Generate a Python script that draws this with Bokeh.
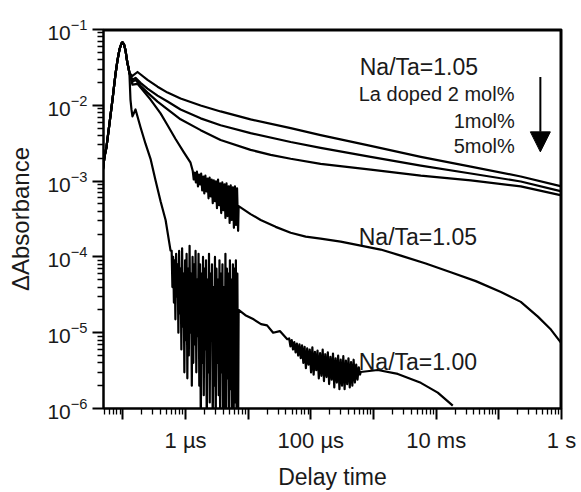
import numpy as np
from bokeh.plotting import figure
from bokeh.models import (FixedTicker, CustomJSTickFormatter, LogTickFormatter,
                          Arrow, NormalHead, Range1d)
from bokeh.core.properties import value
from bokeh.embed import file_html
from bokeh.resources import INLINE

# ---------------- data (delay time in s, ΔAbsorbance) ----------------
# common laser-pulse rise and peak
pulse_t = [4.6e-8, 4.72e-8, 5.08e-8, 5.47e-8, 6.11e-8, 6.82e-8, 7.62e-8, 8.20e-8, 8.83e-8,
           9.51e-8, 9.86e-8, 1.04e-7, 1.10e-7, 1.14e-7, 1.18e-7, 1.23e-7, 1.27e-7]
pulse_a = [1e-4, 1.26e-3, 2.09e-3, 2.82e-3, 5.79e-3, 0.0119, 0.0259, 0.0395, 0.0549,
           0.0657, 0.0677, 0.0638, 0.0533, 0.0432, 0.0361, 0.0311, 0.0267]

# Na/Ta=1.05, La doped 2 mol%
la2_t = [1.42e-7, 1.71e-7, 2.47e-7, 3.57e-7, 5.16e-7, 8.32e-7, 1.74e-6, 3.62e-6, 1.09e-5,
         4.76e-5, 1.43e-4, 9.02e-4, 5.68e-3, 3.57e-2, 0.224, 1.0]
la2_a = [0.0244, 0.0275, 0.0217, 0.0176, 0.0147, 0.0123, 9.94e-3, 8.30e-3, 6.53e-3,
         4.99e-3, 4.04e-3, 2.91e-3, 2.09e-3, 1.55e-3, 1.15e-3, 8.51e-4]

# La doped 1 mol%
la1_t = [1.42e-7, 1.59e-7, 1.91e-7, 2.47e-7, 3.57e-7, 5.16e-7, 8.32e-7, 1.74e-6, 3.62e-6,
         1.09e-5, 4.76e-5, 1.43e-4, 9.02e-4, 5.68e-3, 3.57e-2, 0.224, 1.0]
la1_a = [0.0217, 0.0230, 0.0198, 0.0166, 0.0134, 0.0112, 8.82e-3, 6.73e-3, 5.46e-3,
         4.30e-3, 3.28e-3, 2.74e-3, 2.09e-3, 1.60e-3, 1.26e-3, 9.89e-4, 7.33e-4]

# La doped 5 mol%
la5_t = [1.42e-7, 1.59e-7, 1.91e-7, 2.47e-7, 3.57e-7, 5.16e-7, 8.32e-7, 1.74e-6, 3.62e-6,
         1.09e-5, 2.28e-5, 4.76e-5, 1.43e-4, 9.02e-4, 5.68e-3, 3.57e-2, 0.224, 1.0]
la5_a = [0.0204, 0.0217, 0.0181, 0.0147, 0.0112, 8.82e-3, 6.53e-3, 4.70e-3, 3.48e-3,
         2.58e-3, 2.22e-3, 1.97e-3, 1.69e-3, 1.42e-3, 1.18e-3, 1.02e-3, 8.51e-4, 6.49e-4]

# Na/Ta=1.05 (undoped): early part, noisy part, late part
n105_early_t = [1.42e-7, 1.71e-7, 2.76e-7, 3.99e-7, 5.16e-7, 6.92e-7, 9.29e-7, 1.20e-6]
n105_early_a = [0.0187, 0.0192, 0.0119, 7.82e-3, 5.46e-3, 3.59e-3, 2.43e-3, 1.75e-3]
n105_noise_span = [1.3e-6, 6.9e-6]
n105_noise_a = [1.37e-3, 1.05e-3, 1.29e-3, 9.60e-4, 1.33e-3, 8.51e-4, 1.22e-3, 9.04e-4, 1.26e-3, 7.55e-4,
                1.15e-3, 6.90e-4, 1.18e-3, 7.33e-4, 1.08e-3, 5.93e-4, 1.11e-3, 6.30e-4, 1.05e-3, 5.11e-4,
                1.02e-3, 5.42e-4, 9.89e-4, 4.40e-4, 1.05e-3, 4.81e-4, 9.31e-4, 3.79e-4, 9.60e-4, 4.14e-4,
                9.04e-4, 3.26e-4, 9.31e-4, 3.46e-4, 8.51e-4, 2.81e-4, 8.77e-4, 3.07e-4, 8.26e-4, 2.42e-4,
                8.51e-4, 2.64e-4, 8.01e-4, 2.21e-4]
n105_late_t = [7.03e-6, 1.09e-5, 1.58e-5, 2.74e-5, 4.76e-5, 8.26e-5, 1.43e-4, 2.99e-4, 6.25e-4,
               1.30e-3, 2.72e-3, 6.82e-3, 1.71e-2, 4.29e-2, 0.108, 0.224, 0.420, 0.678, 1.0]
n105_late_a = [4.67e-4, 3.67e-4, 3.07e-4, 2.49e-4, 2.08e-4, 1.85e-4, 1.74e-4, 1.59e-4, 1.41e-4,
               1.25e-4, 1.04e-4, 8.20e-5, 6.26e-5, 4.79e-5, 3.44e-5, 2.55e-5, 1.63e-5, 1.10e-5, 7.23e-6]

# Na/Ta=1.00 (undoped)
n100_early_t = [1.32e-7, 1.37e-7, 1.42e-7, 1.59e-7, 1.91e-7, 2.30e-7, 2.76e-7, 3.32e-7, 3.99e-7, 4.80e-7, 5.76e-7]
n100_early_a = [0.0119, 8.82e-3, 7.15e-3, 8.82e-3, 5.14e-3, 3.09e-3, 1.97e-3, 1.02e-3, 5.42e-4, 3.07e-4, 1.21e-4]
n100_noise1_span = [6.0e-7, 6.9e-6]
n100_noise1_a = [1.2e-4, 4e-5, 1.0e-4, 2.5e-5, 9e-5, 1.5e-5, 1.1e-4, 3e-5, 8e-5, 1.0e-5, 1.2e-4, 1.8e-5,
                 7e-5, 6e-6, 1.3e-4, 1.2e-5, 6e-5, 3e-6, 9e-5, 8e-6, 1.1e-4, 2.5e-6, 7e-5, 5e-6, 1.4e-4,
                 1.0e-5, 6e-5, 2e-6, 1.0e-4, 4e-6, 8e-5, 7e-6, 1.2e-4, 3e-6, 5e-5, 9e-6, 1.1e-4, 2e-6,
                 8e-5, 5e-7, 6e-5, 4e-6, 1.0e-4, 1.5e-6, 7e-5, 6e-6, 9e-5, 5e-7, 5e-5, 3e-6, 1.1e-4,
                 1.2e-6, 6e-5, 8e-6, 8e-5, 5e-7, 4e-5, 2e-6, 1.0e-4, 5e-7, 7e-5, 4e-6, 5e-5, 1.5e-6,
                 9e-5, 5e-7, 6e-5, 3e-6, 8e-5, 5e-7, 4e-5, 1.0e-6, 1.1e-4, 5e-7, 7e-5, 2.5e-6, 6e-5,
                 5e-7, 9e-5, 1.8e-6, 5e-5, 5e-7, 8e-5, 5e-7, 7e-5, 1.2e-6, 9e-5, 5e-7, 6e-5, 5e-7]
n100_mid_t = [7.03e-6, 9.0e-6, 1.22e-5, 1.6e-5, 2.0e-5, 2.5e-5, 3.2e-5, 4.2e-5]
n100_mid_a = [2.0e-5, 1.7e-5, 1.5e-5, 1.3e-5, 1.25e-5, 1.0e-5, 1.05e-5, 8.2e-6]
n100_noise2_span = [4.5e-5, 6.1e-4]
n100_noise2_a = [8.4e-6, 6.6e-6, 8.0e-6, 6.0e-6, 7.5e-6, 5.5e-6, 7.2e-6, 5.0e-6, 7.0e-6, 4.6e-6,
                 6.8e-6, 4.0e-6, 6.5e-6, 3.4e-6, 6.2e-6, 3.8e-6, 6.0e-6, 3.0e-6, 6.4e-6, 2.8e-6,
                 5.6e-6, 3.2e-6, 5.8e-6, 2.5e-6, 5.4e-6, 2.7e-6, 6.0e-6, 2.3e-6, 5.2e-6, 2.6e-6,
                 5.5e-6, 2.1e-6, 4.8e-6, 2.4e-6, 5.3e-6, 1.9e-6, 4.6e-6, 2.2e-6, 5.0e-6, 1.8e-6,
                 4.4e-6, 2.0e-6, 4.9e-6, 1.8e-6, 4.3e-6, 2.1e-6, 4.6e-6, 1.9e-6, 4.1e-6, 2.0e-6,
                 4.4e-6, 2.2e-6, 3.8e-6, 2.4e-6, 3.5e-6, 2.8e-6]
n100_late_t = [6.25e-4, 1.17e-3, 2.44e-3, 5.68e-3, 1.06e-2, 1.84e-2]
n100_late_a = [3.03e-6, 3.22e-6, 2.86e-6, 2.18e-6, 1.62e-6, 1.09e-6]

# axis ticks / labels
x_major = [1e-7, 1e-6, 1e-5, 1e-4, 1e-3, 1e-2, 1e-1, 1e0]
x_label_ticks = [1e-6, 1e-4, 1e-2, 1e0]
x_tick_labels = ["1 \u00b5s", "100 \u00b5s", "10 ms", "1 s"]
y_major = [1e-6, 1e-5, 1e-4, 1e-3, 1e-2, 1e-1]

# annotations
ann_left_text = ["Na/Ta=1.05", "Na/Ta=1.05", "Na/Ta=1.00"]
ann_left_x = [6.03e-4, 5.81e-4, 5.81e-4]
ann_left_y = [0.032, 1.85e-4, 4.09e-6]
sub_text = ["La doped 2 mol%"]
sub_x = [5.81e-4]
sub_y = [0.01426]
sub_right_text = ["1mol%", "5mol%"]
sub_right_x = [0.180, 0.180]
sub_right_y = [6.15e-3, 2.91e-3]
arrow_x = 0.46
arrow_y = [0.0237, 2.43e-3]

FONT = "Liberation Sans"
INK = "#1a1a1a"

X0, X1 = 4.9e-8, 1.0005
Y0, Y1 = 0.9999e-6, 0.10001
FRAME_W, FRAME_H = 458, 384

# ---------------- figure ----------------
p = figure(width=581, height=492, x_axis_type="log", y_axis_type="log",
           x_range=Range1d(X0, X1), y_range=Range1d(Y0, Y1),
           output_backend="svg", toolbar_location=None,
           min_border_left=103, min_border_right=20, min_border_top=29, min_border_bottom=79)
p.xgrid.visible = False
p.ygrid.visible = False
p.outline_line_color = "black"
p.outline_line_width = 2
p.background_fill_color = "white"
p.border_fill_color = "white"

# ticks
x_minor = [k * 10.0**e for e in range(-8, 0) for k in range(2, 10) if X0 <= k * 10.0**e <= 1.0]
y_minor = [k * 10.0**e for e in range(-6, -1) for k in range(2, 10)]
p.xaxis.ticker = FixedTicker(ticks=x_major, minor_ticks=x_minor)
p.yaxis.ticker = FixedTicker(ticks=y_major, minor_ticks=y_minor)
p.xaxis.formatter = CustomJSTickFormatter(args=dict(vals=x_label_ticks, labels=x_tick_labels), code="""
for (let i = 0; i < vals.length; i++) {
  if (Math.abs(Math.log10(tick) - Math.log10(vals[i])) < 1e-6) { return labels[i]; }
}
return "";
""")
p.yaxis.formatter = LogTickFormatter()

for ax in (p.xaxis, p.yaxis):
    ax.axis_line_color = "black"
    ax.axis_line_width = 2
    ax.major_tick_line_color = "black"
    ax.major_tick_line_width = 2
    ax.minor_tick_line_color = "black"
    ax.minor_tick_line_width = 1.3
    ax.major_tick_in = 0
    ax.minor_tick_in = 0
    ax.major_tick_out = 11
    ax.minor_tick_out = 6
    ax.major_label_text_font = FONT
    ax.major_label_text_color = INK
    ax.axis_label_text_font = FONT
    ax.axis_label_text_font_style = "normal"
    ax.axis_label_text_color = INK

p.xaxis.major_label_text_font_size = "22px"
p.yaxis.major_label_text_font_size = "21px"
p.xaxis.axis_label = "Delay time"
p.yaxis.axis_label = "\u0394Absorbance"
p.xaxis.axis_label_text_font_size = "23px"
p.yaxis.axis_label_text_font_size = "24px"
p.xaxis.major_label_standoff = 8
p.yaxis.major_label_standoff = 5
p.xaxis.axis_label_standoff = 8
p.yaxis.axis_label_standoff = 10

# frame border on top and right: thin filled bands just inside the frame
band_px = 2.0
y_band = 10 ** (np.log10(Y1) - band_px * np.log10(Y1 / Y0) / FRAME_H)
x_band = 10 ** (np.log10(X1) - band_px * np.log10(X1 / X0) / FRAME_W)
p.quad(left=[X0, x_band], right=[X1, X1], bottom=[y_band, Y0], top=[Y1, Y1],
       fill_color="black", line_color=None)

# ---------------- curves ----------------
def cat(*parts):
    return np.concatenate([np.asarray(x, dtype=float) for x in parts])

def grid(span, vals):
    return np.geomspace(span[0], span[1], len(vals))

curves = [
    (cat(pulse_t, la2_t), cat(pulse_a, la2_a)),
    (cat(pulse_t, la1_t), cat(pulse_a, la1_a)),
    (cat(pulse_t, la5_t), cat(pulse_a, la5_a)),
    (cat(pulse_t, n105_early_t, grid(n105_noise_span, n105_noise_a), n105_late_t),
     cat(pulse_a, n105_early_a, n105_noise_a, n105_late_a)),
    (cat(pulse_t, n100_early_t, grid(n100_noise1_span, n100_noise1_a), n100_mid_t,
         grid(n100_noise2_span, n100_noise2_a), n100_late_t),
     cat(pulse_a, n100_early_a, n100_noise1_a, n100_mid_a, n100_noise2_a, n100_late_a)),
]
for t, a in curves:
    p.line(t, a, line_color="black", line_width=2.2, line_join="round")

# ---------------- annotations ----------------
p.text(x=ann_left_x, y=ann_left_y, text=ann_left_text, text_font=value(FONT),
       text_font_size="23px", text_align="left", text_baseline="alphabetic", text_color=INK)
p.text(x=sub_x, y=sub_y, text=sub_text, text_font=value(FONT),
       text_font_size="20px", text_align="left", text_baseline="alphabetic", text_color=INK)
p.text(x=sub_right_x, y=sub_right_y, text=sub_right_text, text_font=value(FONT),
       text_font_size="20px", text_align="right", text_baseline="alphabetic", text_color=INK)
p.add_layout(Arrow(end=NormalHead(size=20, fill_color="black", line_color="black"),
                   x_start=arrow_x, y_start=arrow_y[0], x_end=arrow_x, y_end=arrow_y[1],
                   line_width=2, line_color="black"))

open("out.html", "w").write(file_html(p, INLINE))
